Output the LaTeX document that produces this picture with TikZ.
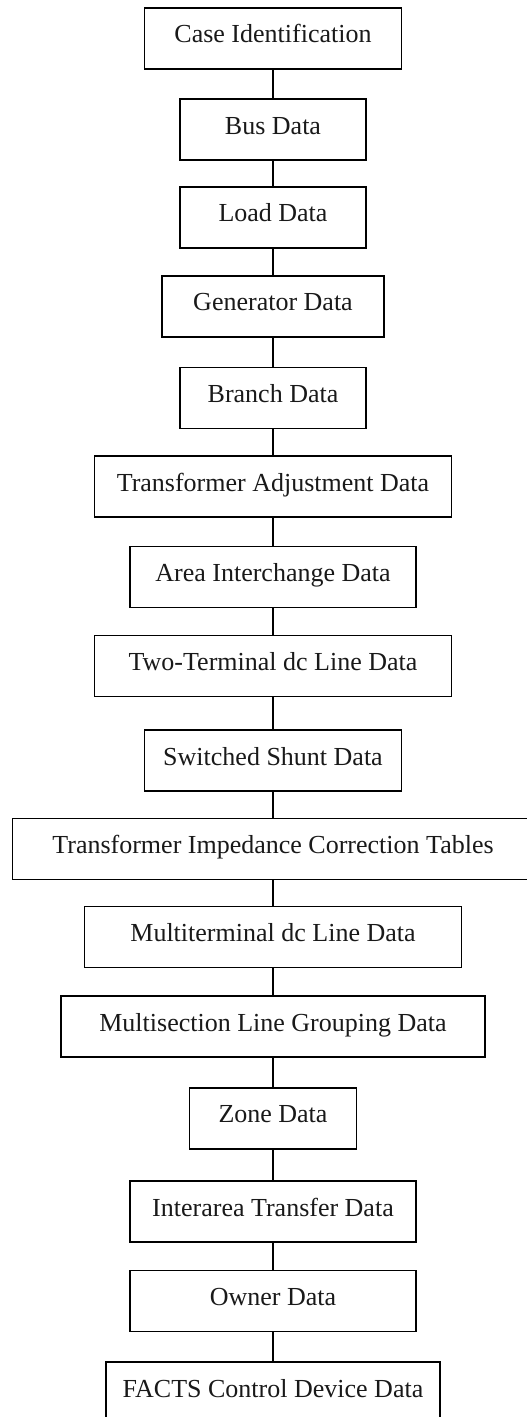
\documentclass[tikz,border=0pt]{standalone}
\usepackage{fontspec}
\setmainfont{Liberation Serif}
\begin{document}
\begin{tikzpicture}[x=1pt,y=-1pt,
  box/.style={draw=black, line width=1.5pt, minimum height=61pt, inner sep=0pt,
    text height=18pt, text depth=9pt,
    font=\fontsize{26}{30}\selectfont, text=black!90},
  link/.style={draw=black, line width=1.5pt}]
\useasboundingbox (0,0) rectangle (527,1417);
\node[box, minimum width=257pt] (n1) at (273,38.3) {Case Identification};
\node[box, minimum width=186pt] (n2) at (273,129.5) {Bus Data};
\node[box, minimum width=186pt] (n3) at (273,217.3) {Load Data};
\node[box, minimum width=222pt] (n4) at (273,306.3) {Generator Data};
\node[box, minimum width=186pt] (n5) at (273,397.8) {Branch Data};
\node[box, minimum width=357pt] (n6) at (273,486.7) {Transformer Adjustment Data};
\node[box, minimum width=286pt] (n7) at (273,577) {Area Interchange Data};
\node[box, minimum width=357pt] (n8) at (273,666.2) {Two-Terminal dc Line Data};
\node[box, minimum width=257pt] (n9) at (273,760.5) {Switched Shunt Data};
\node[box, minimum width=521pt] (n10) at (273,849) {Transformer Impedance Correction Tables};
\node[box, minimum width=377pt] (n11) at (273,937.2) {Multiterminal dc Line Data};
\node[box, minimum width=424pt] (n12) at (273,1026.7) {Multisection Line Grouping Data};
\node[box, minimum width=167pt] (n13) at (273,1118.3) {Zone Data};
\node[box, minimum width=286pt] (n14) at (273,1211.5) {Interarea Transfer Data};
\node[box, minimum width=286pt] (n15) at (273,1300.8) {Owner Data};
\node[box, minimum width=334pt] (n16) at (273,1392.7) {FACTS Control Device Data};
\foreach \a/\b in {n1/n2,n2/n3,n3/n4,n4/n5,n5/n6,n6/n7,n7/n8,n8/n9,n9/n10,n10/n11,n11/n12,n12/n13,n13/n14,n14/n15,n15/n16}
  \draw[link] (\a.south) -- (\b.north);
\end{tikzpicture}
\end{document}
